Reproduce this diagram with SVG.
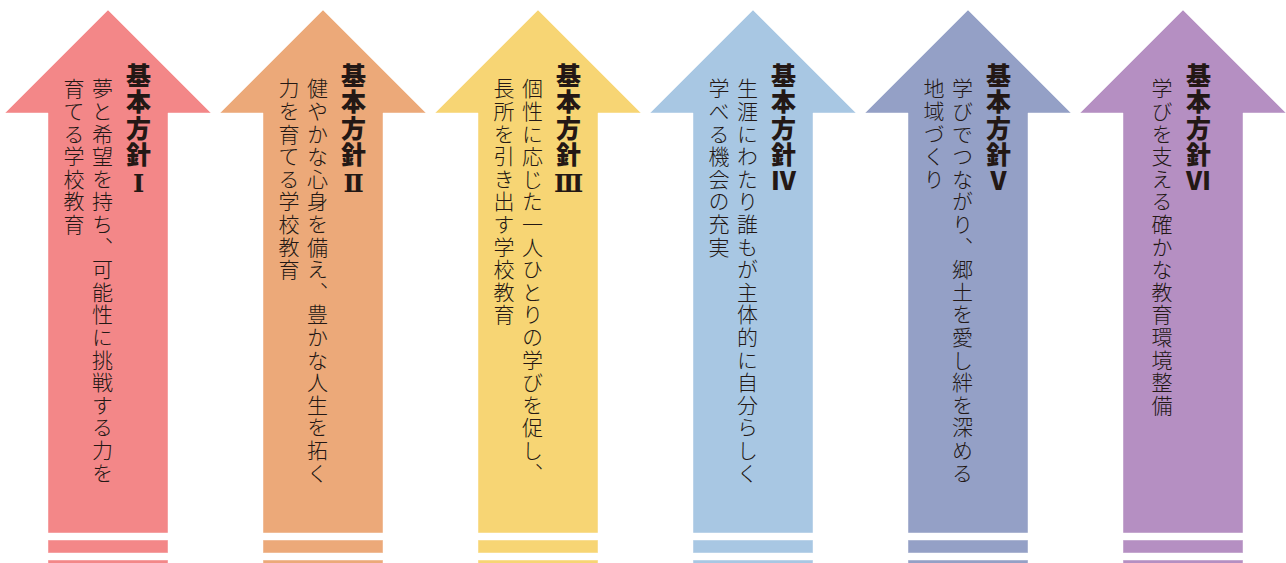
<svg xmlns="http://www.w3.org/2000/svg" width="1286" height="563" viewBox="0 0 1286 563">
<style>
  .bg{fill:#ffffff}
  .a{stroke:#ffffff;stroke-opacity:0.45;stroke-width:1}
  .c1{fill:#F38788}
  .c2{fill:#ECA979}
  .c3{fill:#F7D574}
  .c4{fill:#A8C7E3}
  .c5{fill:#94A0C6}
  .c6{fill:#B58FC2}
  text{font-family:"Noto Sans CJK JP","Noto Sans CJK SC",sans-serif;fill:#231815;writing-mode:vertical-rl}
  .t{font-size:25px;font-weight:900;letter-spacing:1.4px}
  .b{font-size:21px;font-weight:300;letter-spacing:1.6px}
  .n{font-family:"DejaVu Serif","Liberation Serif",serif;font-weight:700;font-size:24px}
</style>
<rect class="bg" x="0" y="0" width="1286" height="563"/>
<g id="arrow1">
  <polygon class="a c1" points="108,10 211,113 168,113 168,533 48,533 48,113 5,113"/>
  <rect class="a c1" x="48" y="540" width="120" height="13"/>
  <rect class="a c1" x="48" y="560" width="120" height="6"/>
  <text class="t" x="138.5" y="63">基本方針<tspan class="n">Ⅰ</tspan></text>
  <text class="b" x="102.5" y="78">夢と希望を持ち、可能性に挑戦する力を</text>
  <text class="b" x="74" y="78">育てる学校教育</text>
</g>
<g id="arrow2">
  <polygon class="a c2" points="323,10 426,113 383,113 383,533 263,533 263,113 220,113"/>
  <rect class="a c2" x="263" y="540" width="120" height="13"/>
  <rect class="a c2" x="263" y="560" width="120" height="6"/>
  <text class="t" x="353.5" y="63">基本方針<tspan class="n">Ⅱ</tspan></text>
  <text class="b" x="317.5" y="78">健やかな心身を備え、豊かな人生を拓く</text>
  <text class="b" x="289" y="78">力を育てる学校教育</text>
</g>
<g id="arrow3">
  <polygon class="a c3" points="538,10 641,113 598,113 598,533 478,533 478,113 435,113"/>
  <rect class="a c3" x="478" y="540" width="120" height="13"/>
  <rect class="a c3" x="478" y="560" width="120" height="6"/>
  <text class="t" x="568.5" y="63">基本方針<tspan class="n">Ⅲ</tspan></text>
  <text class="b" x="532.5" y="78">個性に応じた一人ひとりの学びを促し、</text>
  <text class="b" x="504" y="78">長所を引き出す学校教育</text>
</g>
<g id="arrow4">
  <polygon class="a c4" points="753,10 856,113 813,113 813,533 693,533 693,113 650,113"/>
  <rect class="a c4" x="693" y="540" width="120" height="13"/>
  <rect class="a c4" x="693" y="560" width="120" height="6"/>
  <text class="t" x="783.5" y="63">基本方針Ⅳ</text>
  <text class="b" x="747.5" y="78">生涯にわたり誰もが主体的に自分らしく</text>
  <text class="b" x="719" y="78">学べる機会の充実</text>
</g>
<g id="arrow5">
  <polygon class="a c5" points="968,10 1071,113 1028,113 1028,533 908,533 908,113 865,113"/>
  <rect class="a c5" x="908" y="540" width="120" height="13"/>
  <rect class="a c5" x="908" y="560" width="120" height="6"/>
  <text class="t" x="998.5" y="63">基本方針Ⅴ</text>
  <text class="b" x="962.5" y="78">学びでつながり、郷土を愛し絆を深める</text>
  <text class="b" x="934" y="78">地域づくり</text>
</g>
<g id="arrow6">
  <polygon class="a c6" points="1183,10 1286,113 1243,113 1243,533 1123,533 1123,113 1080,113"/>
  <rect class="a c6" x="1123" y="540" width="120" height="13"/>
  <rect class="a c6" x="1123" y="560" width="120" height="6"/>
  <text class="t" x="1198.5" y="63">基本方針Ⅵ</text>
  <text class="b" x="1162" y="78">学びを支える確かな教育環境整備</text>
</g>
<g id="connectors"></g>
</svg>
